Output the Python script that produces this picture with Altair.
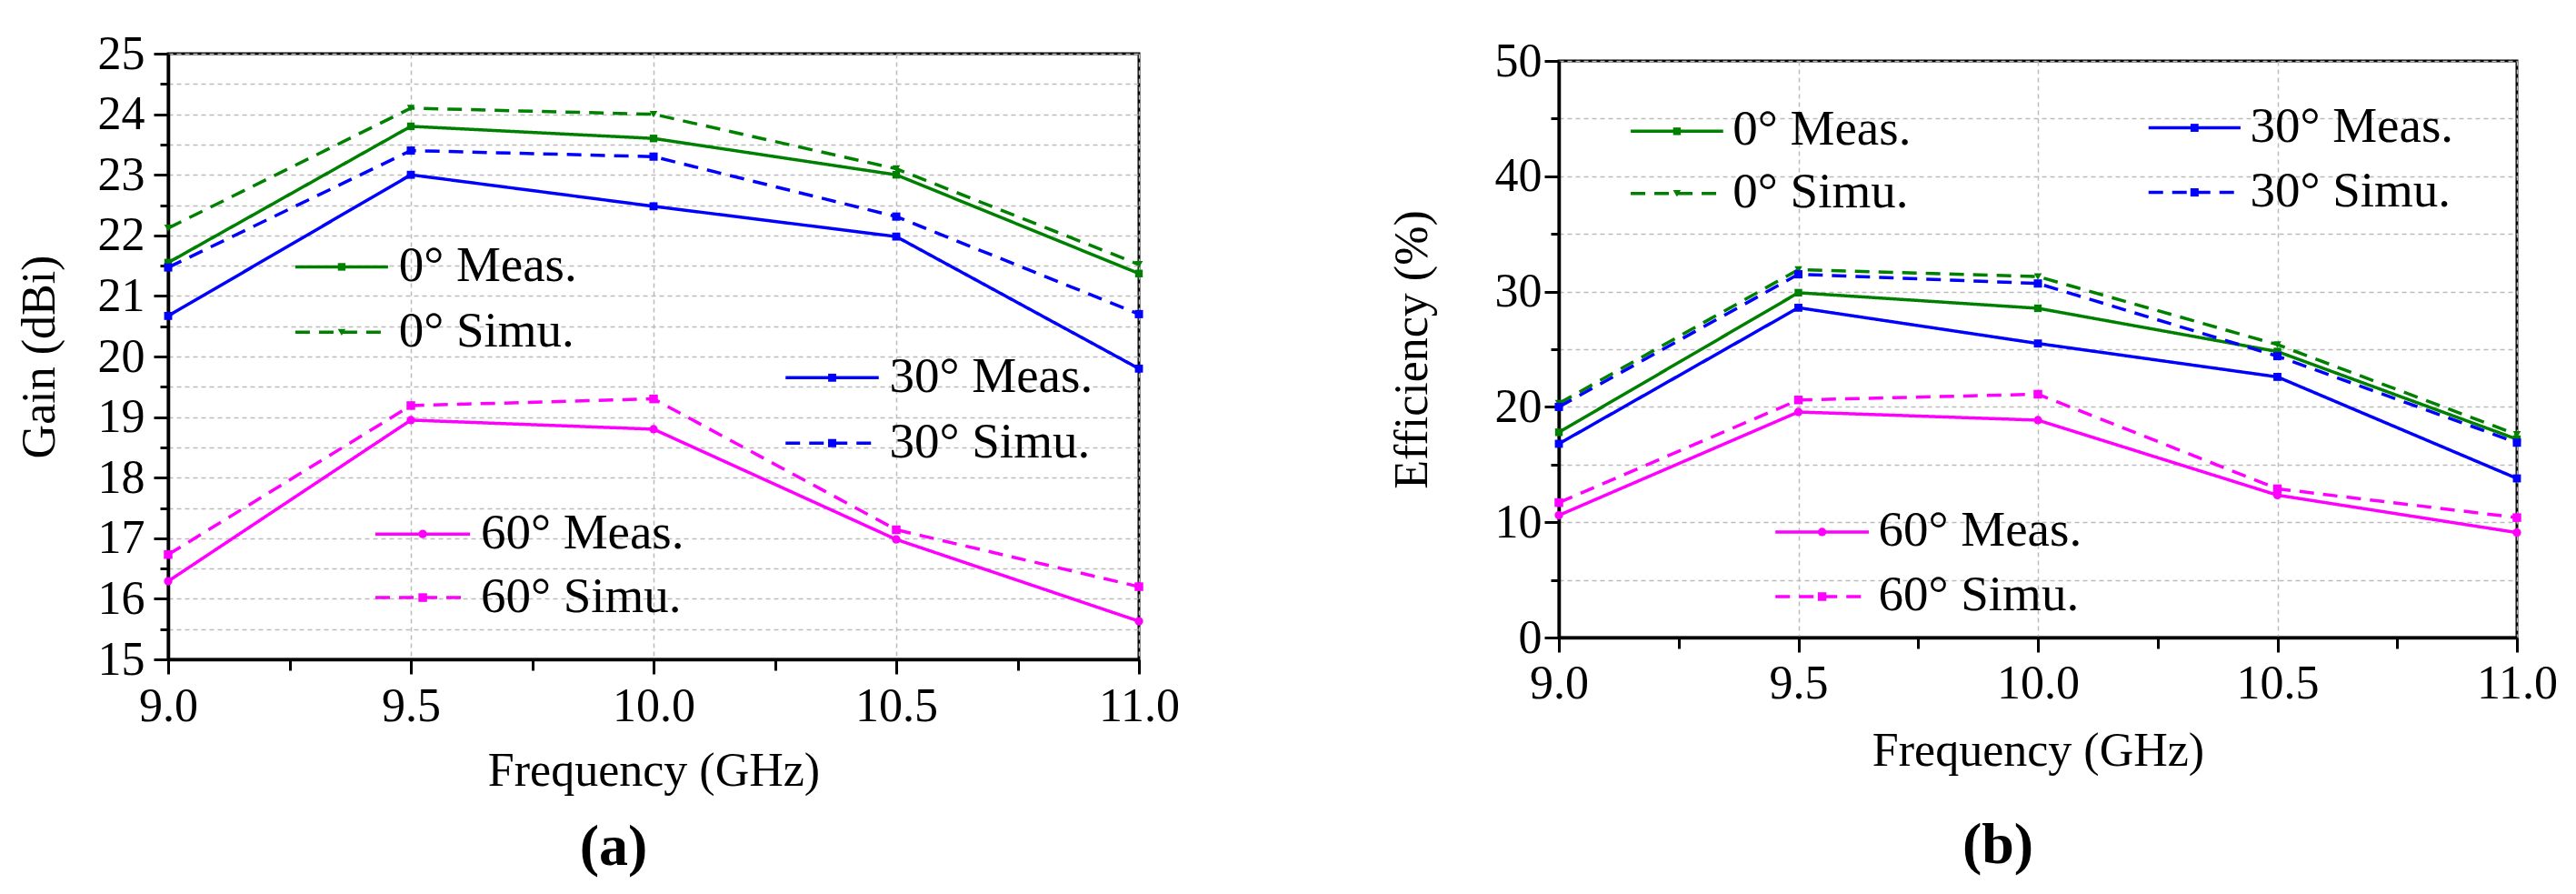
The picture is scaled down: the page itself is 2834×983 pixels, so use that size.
import altair as alt
import pandas as pd

FONT = "Liberation Serif"

# ---------------- data ----------------
freq = [9.0, 9.5, 10.0, 10.5, 11.0]
series_names = ["0° Meas.", "0° Simu.", "30° Meas.", "30° Simu.", "60° Meas.", "60° Simu."]
series_kind = ["Meas.", "Simu.", "Meas.", "Simu.", "Meas.", "Simu."]
series_colors = ["#008000", "#008000", "#0000FF", "#0000FF", "#FF00FF", "#FF00FF"]

gain_0_meas = [21.55, 23.8, 23.6, 23.0, 21.37]
gain_0_simu = [22.12, 24.1, 24.0, 23.1, 21.52]
gain_30_meas = [20.67, 23.0, 22.48, 21.98, 19.8]
gain_30_simu = [21.47, 23.4, 23.3, 22.31, 20.7]
gain_60_meas = [16.29, 18.95, 18.8, 16.98, 15.63]
gain_60_simu = [16.73, 19.19, 19.3, 17.14, 16.2]

eff_0_meas = [17.8, 29.9, 28.55, 24.8, 17.2]
eff_0_simu = [20.3, 31.9, 31.3, 25.4, 17.6]
eff_30_meas = [16.8, 28.6, 25.5, 22.6, 13.8]
eff_30_simu = [20.0, 31.5, 30.7, 24.4, 16.9]
eff_60_meas = [10.6, 19.56, 18.85, 12.35, 9.1]
eff_60_simu = [11.7, 20.6, 21.1, 12.9, 10.4]

freq_ticks = [9.0, 9.5, 10.0, 10.5, 11.0]
freq_minor = [9.25, 9.75, 10.25, 10.75]
gain_ticks = [15, 16, 17, 18, 19, 20, 21, 22, 23, 24, 25]
gain_minor = [15.5, 16.5, 17.5, 18.5, 19.5, 20.5, 21.5, 22.5, 23.5, 24.5]
eff_ticks = [0, 10, 20, 30, 40, 50]
eff_minor = [5, 15, 25, 35, 45]

# legend layout (data coordinates of each legend entry)
gain_leg_x1 = [9.262, 9.262, 10.272, 10.272, 9.427, 9.427]
gain_leg_x2 = [9.453, 9.453, 10.464, 10.464, 9.622, 9.622]
gain_leg_y = [21.48, 20.40, 19.65, 18.57, 17.07, 16.02]
eff_leg_x1 = [9.150, 9.150, 10.231, 10.231, 9.452, 9.452]
eff_leg_x2 = [9.343, 9.343, 10.423, 10.423, 9.647, 9.647]
eff_leg_y = [43.9, 38.5, 44.2, 38.6, 9.15, 3.55]

gain_shapes = ["square", "triangle-down", "square", "square", "circle", "square"]
gain_sizes = [70, 90, 70, 70, 70, 70]
eff_shapes = ["square", "triangle-up", "square", "square", "circle", "triangle-down"]
eff_sizes = [60, 80, 60, 300, 70, 90]


def long_df(values_list):
    rows = []
    for name, kind, vals in zip(series_names, series_kind, values_list):
        for f, v in zip(freq, vals):
            rows.append({"freq": f, "value": v, "series": name, "kind": kind})
    return pd.DataFrame(rows)


def legend_df(x1, x2, y, gap):
    return pd.DataFrame({
        "series": series_names,
        "kind": series_kind,
        "x1": x1,
        "x2": x2,
        "xm": [(a + b) / 2 for a, b in zip(x1, x2)],
        "xt": [b + gap for b in x2],
        "y": y,
    })


def panel(values_list, leg, y_title, y_domain, y_ticks, y_minor, shapes, sizes,
          w, h, caption, cap_dx, lab_pad_y, title_pad_y, lab_pad_x, title_pad_x, cap_offset,
          text_dy):
    df = long_df(values_list)
    xs = alt.Scale(domain=[9.0, 11.0], nice=False, zero=False)
    ys = alt.Scale(domain=y_domain, nice=False, zero=False)
    color = alt.Color("series:N", scale=alt.Scale(domain=series_names, range=series_colors), legend=None)
    dash = alt.StrokeDash("kind:N", scale=alt.Scale(domain=["Meas.", "Simu."], range=[[1, 0], [16, 10]]), legend=None)
    shape = alt.Shape("series:N", scale=alt.Scale(domain=series_names, range=shapes), legend=None)
    size = alt.Size("series:N", scale=alt.Scale(domain=series_names, range=sizes), legend=None)

    x_main = alt.Axis(values=freq_ticks, format=".1f", title="Frequency (GHz)", orient="bottom",
                      tickSize=16, labelPadding=lab_pad_x, titlePadding=title_pad_x, grid=True)
    y_main = alt.Axis(values=y_ticks, format="d", title=y_title, orient="left",
                      tickSize=16, labelPadding=lab_pad_y, titlePadding=title_pad_y, grid=True)
    x_min = alt.Axis(values=freq_minor, orient="bottom", tickSize=12, labels=False, domain=False,
                     grid=False, title=None)
    y_min = alt.Axis(values=y_minor, orient="left", tickSize=9, labels=False, domain=False,
                     grid=True, title=None)

    lines = alt.Chart(df).mark_line(strokeWidth=3.5).encode(
        x=alt.X("freq:Q", scale=xs, axis=x_main),
        y=alt.Y("value:Q", scale=ys, axis=y_main),
        color=color, strokeDash=dash, detail="series:N",
    )
    pts = alt.Chart(df).mark_point(filled=True, opacity=1).encode(
        x=alt.X("freq:Q", scale=xs, axis=None),
        y=alt.Y("value:Q", scale=ys, axis=None),
        color=color, shape=shape, size=size,
    )
    minor = alt.Chart(df).mark_point(opacity=0).encode(
        x=alt.X("freq:Q", scale=xs, axis=x_min),
        y=alt.Y("value:Q", scale=ys, axis=y_min),
    )
    leg_lines = alt.Chart(leg).mark_rule(strokeWidth=3.5).encode(
        x=alt.X("x1:Q", scale=xs, axis=None), x2="x2:Q",
        y=alt.Y("y:Q", scale=ys, axis=None),
        color=color, strokeDash=dash,
    )
    leg_pts = alt.Chart(leg).mark_point(filled=True, opacity=1).encode(
        x=alt.X("xm:Q", scale=xs, axis=None),
        y=alt.Y("y:Q", scale=ys, axis=None),
        color=color, shape=shape, size=size,
    )
    leg_text = alt.Chart(leg).mark_text(align="left", baseline="middle", font=FONT,
                                        fontSize=55, color="black", dy=text_dy).encode(
        x=alt.X("xt:Q", scale=xs, axis=None),
        y=alt.Y("y:Q", scale=ys, axis=None),
        text="series:N",
    )
    return alt.layer(lines, pts, minor, leg_lines, leg_pts, leg_text).resolve_axis(
        x="independent", y="independent"
    ).properties(
        width=w, height=h,
        title=alt.TitleParams(caption, orient="bottom", fontSize=64, fontWeight="bold",
                              font=FONT, color="black", frame="group", anchor="middle",
                              dx=cap_dx, offset=cap_offset),
    )


left = panel([gain_0_meas, gain_0_simu, gain_30_meas, gain_30_simu, gain_60_meas, gain_60_simu],
             legend_df(gain_leg_x1, gain_leg_x2, gain_leg_y, 0.022),
             "Gain (dBi)", [15, 25], gain_ticks, gain_minor, gain_shapes, gain_sizes,
             1068, 666, "(a)", -44, 10, 37, 10, 20, 27, -1)
right = panel([eff_0_meas, eff_0_simu, eff_30_meas, eff_30_simu, eff_60_meas, eff_60_simu],
              legend_df(eff_leg_x1, eff_leg_x2, eff_leg_y, 0.02),
              "Efficiency (%)", [0, 50], eff_ticks, eff_minor, eff_shapes, eff_sizes,
              1054, 634, "(b)", -44, 3, 64, 9, 23, 47, -2)

# invisible block that pushes panel (b) a few pixels lower than panel (a)
spacer = alt.Chart(pd.DataFrame({"v": [0]})).mark_point(size=1).encode(
    opacity=alt.value(0)
).properties(width=10, height=9, view=alt.ViewBackground(stroke="transparent"))

chart = alt.hconcat(
    alt.concat(left, columns=1, align="none", spacing=0),
    alt.concat(spacer, right, columns=1, align="none", spacing=-30),
    spacing=225,
).properties(
    padding={"left": 7, "top": 23, "right": 5, "bottom": 5}
).configure_view(
    stroke="black", strokeWidth=3
).configure_axis(
    labelFont=FONT, titleFont=FONT, labelFontSize=52, titleFontSize=52,
    labelColor="black", titleColor="black", titleFontWeight="normal",
    domainColor="black", domainWidth=3.5, tickColor="black", tickWidth=3,
    gridColor="#BBBBBB", gridDash=[5, 4], gridWidth=1.5,
    labelFlush=False, labelOverlap=False,
).configure_title(font=FONT, color="black")

chart.save("out.html", embed_options={"renderer": "svg", "actions": False})
